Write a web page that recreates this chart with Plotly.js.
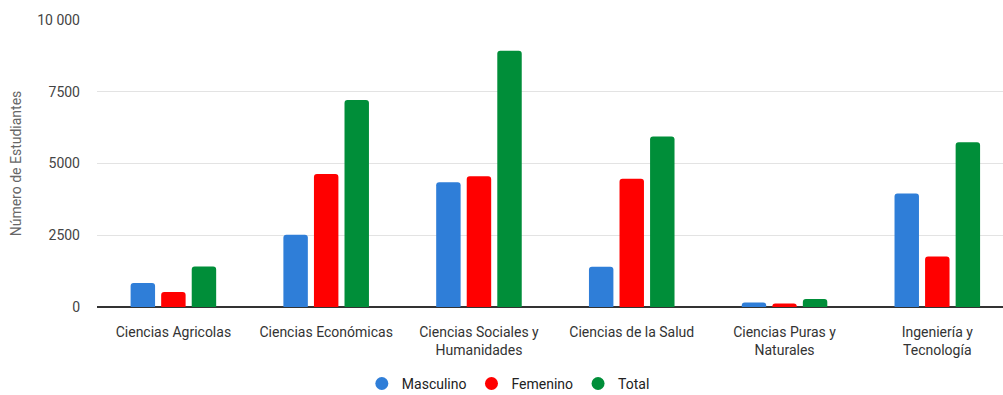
<!DOCTYPE html>
<html>
<head>
<meta charset="utf-8">
<script src="https://cdn.plot.ly/plotly-3.0.1.min.js"></script>
<style>html,body{margin:0;padding:0;background:#fff;overflow:hidden}#chart{width:1003px;height:412px}</style>
</head>
<body>
<div id="chart"></div>
<script>
const categories = ["Ciencias Agricolas", "Ciencias Económicas", "Ciencias Sociales y<br>Humanidades", "Ciencias de la Salud", "Ciencias Puras y<br>Naturales", "Ingeniería y<br>Tecnología"];
const masculino = [835, 2516, 4351, 1403, 160, 3954];
const femenino = [522, 4630, 4560, 4466, 125, 1761];
const total = [1413, 7215, 8932, 5938, 278, 5743];
const seriesNames = ["Masculino", "Femenino", "Total"];
const seriesColors = ["#2f7ed8", "#ff0000", "#008e39"];
const yTickVals = [0, 2500, 5000, 7500, 10000];
const yTickText = ["0", "2500", "5000", "7500", "10 000"];

const seriesData = [masculino, femenino, total];
const traces = [];
seriesData.forEach((vals, i) => {
  traces.push({
    type: "bar", x: categories, y: vals, name: seriesNames[i],
    marker: {color: seriesColors[i]}, showlegend: false
  });
});
seriesData.forEach((vals, i) => {
  traces.push({
    type: "scatter", mode: "markers", x: [null], y: [null], name: seriesNames[i],
    marker: {color: seriesColors[i], symbol: "circle", size: 13}, showlegend: true
  });
});

const layout = {
  width: 1003, height: 412,
  margin: {l: 97, r: 0, t: 20, b: 105},
  paper_bgcolor: "#fff", plot_bgcolor: "#fff",
  font: {family: "Roboto, Arial, sans-serif", size: 14, color: "#444"},
  barmode: "group", bargap: 0.40, bargroupgap: 0.2, barcornerradius: 3,
  xaxis: {
    type: "category", range: [-0.5, 5.43], showgrid: false, zeroline: false,
    showline: false, ticks: "", ticklabelstandoff: 15,
    tickfont: {size: 14, color: "#333"}, fixedrange: true
  },
  yaxis: {
    range: [0, 10000], tickvals: yTickVals, ticktext: yTickText,
    gridcolor: "#e3e3e3", gridwidth: 1, zeroline: true, zerolinecolor: "#333", zerolinewidth: 1.5,
    showline: false, ticks: "", ticklabelstandoff: 16,
    tickfont: {size: 14, color: "#444"},
    title: {text: "Número de Estudiantes", font: {size: 14, color: "#666"}, standoff: 12},
    fixedrange: true
  },
  legend: {
    orientation: "h", x: 0.454, xanchor: "center", y: -0.268, yanchor: "middle",
    font: {size: 14, color: "#222"}, itemwidth: 30, tracegroupgap: 0
  },
  showlegend: true
};

Plotly.newPlot("chart", traces, layout, {displayModeBar: false, staticPlot: true});
</script>
</body>
</html>
